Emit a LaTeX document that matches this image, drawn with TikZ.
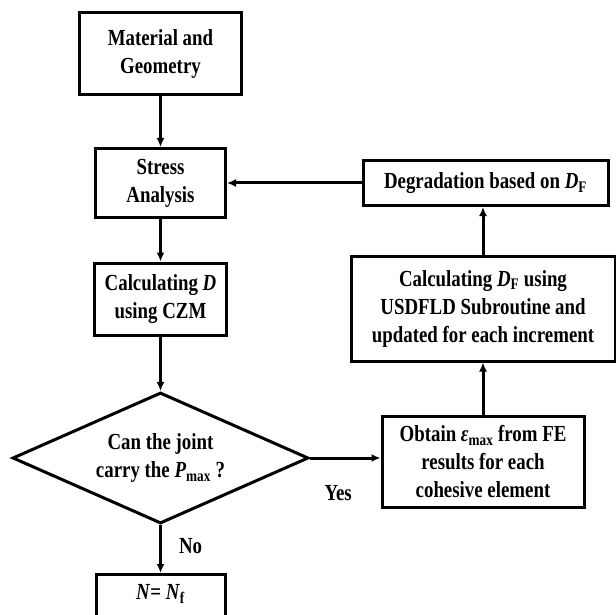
\documentclass[tikz,border=0pt]{standalone}
\usepackage{fontspec}
\setmainfont{Liberation Serif}[FakeStretch=0.82]
\usetikzlibrary{positioning, arrows.meta, shapes.geometric}
\tikzset{
    flowtext/.style={font=\fontsize{23}{28}\selectfont\bfseries},
    flowbox/.style={rectangle, draw, line width=3pt, align=center, inner sep=0pt, flowtext},
    decision/.style={diamond, draw, line width=3pt, align=center, inner sep=0pt, aspect=2.26, flowtext},
    flowarrow/.style={-{Latex[length=9pt, width=8pt]}, line width=3pt},
    flowlabel/.style={inner sep=0pt, flowtext}
}
\begin{document}
\begin{tikzpicture}[x=1pt, y=-1pt]
                    \clip (0,0) rectangle (616,615);
                    % left column
                    \node[flowbox, minimum width=162pt, minimum height=82pt] (matgeo) at (160.5,54) {Material and\\Geometry};
                    \node[flowbox, minimum width=130pt, minimum height=69pt] (stress) at (160.5,183) {Stress\\Analysis};
                    \node[flowbox, minimum width=132pt, minimum height=72pt] (calcd) at (160.5,299) {Calculating \textit{D}\\using CZM};
                    \node[decision, minimum width=296pt, minimum height=131pt] (joint) at (160.5,458) {Can the joint\\carry the \textit{P}\textsubscript{max} ?};
                    \node[flowbox, anchor=north, minimum width=129pt, text height=25pt, text depth=50pt] (nnf) at (160.5,573) {\textit{N}= \textit{N}\textsubscript{f}};
                    % right column
                    \node[flowbox, minimum width=245pt, minimum height=45pt] (degrad) at (485.5,183) {Degradation based on \textit{D}\textsubscript{F}};
                    \node[flowbox, minimum width=264pt, minimum height=105pt] (usdfld) at (483,308.5) {Calculating \textit{D}\textsubscript{F} using\\USDFLD Subroutine and\\updated for each increment};
                    \node[flowbox, minimum width=202pt, minimum height=91pt] (obtain) at (483,461.5) {Obtain \textit{ε}\textsubscript{max} from FE\\results for each\\cohesive element};

                    \draw[flowarrow] (matgeo) -- (stress);
                    \draw[flowarrow] (stress) -- (calcd);
                    \draw[flowarrow] (calcd) -- (joint);
                    \draw[flowarrow] (joint.east) -- node[flowlabel, below=26pt, pos=0.4] (yes) {Yes} (joint.east -| obtain.west);
                    \draw[flowarrow] (joint.south) -- node[flowlabel, right=17pt, pos=0.44] (no) {No} (nnf.north);
                    \draw[flowarrow] (obtain) -- (usdfld);
                    \draw[flowarrow] (usdfld.north) -- (usdfld.north |- degrad.south);
                    \draw[flowarrow] (degrad) -- (stress);
                \end{tikzpicture}
\end{document}
